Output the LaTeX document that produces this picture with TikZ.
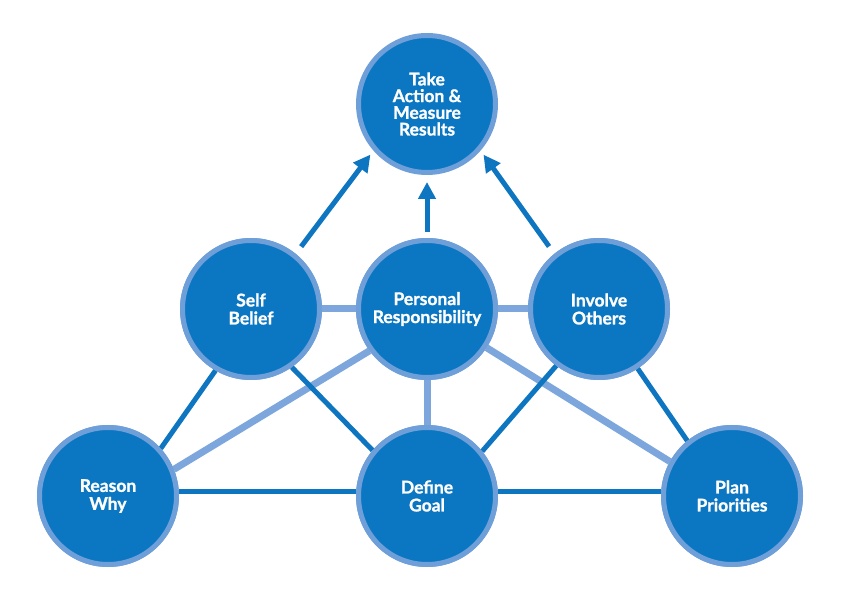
\documentclass[tikz,border=0pt]{standalone}
\usepackage{fontspec}
\setmainfont{Lato}[BoldFeatures={FakeBold=1.2}]
\usetikzlibrary{arrows.meta}
\definecolor{fillblue}{HTML}{0B77C2}
\definecolor{rimblue}{HTML}{6E9FD9}
\definecolor{darkline}{HTML}{0E76C0}
\definecolor{lightline}{HTML}{7DA7DC}
\begin{document}
\begin{tikzpicture}[x=1pt,y=-1pt,
  hub/.style={circle,draw=rimblue,fill=fillblue,line width=5pt,minimum size=137pt,inner sep=0pt,
    text=white,font=\fontsize{17.5}{18}\selectfont\bfseries,align=center},
  tophub/.style={hub,font=\fontsize{17.5}{16.7}\selectfont\bfseries},
  darkconn/.style={draw=darkline,line width=5pt},
  lightconn/.style={draw=lightline,line width=7pt},
  upconn/.style={draw=darkline,line width=5pt,-{Triangle[length=17pt,width=17pt]}}]
\useasboundingbox (0,0) rectangle (841,601);
\node[tophub] (top) at (427,104) {Take\\Action \&\\Measure\\Results};
\node[hub] (sb) at (251,309) {Self\\Belief};
\node[hub] (pr) at (427,309) {Personal\\Responsibility};
\node[hub] (io) at (599,309) {Involve\\Others};
\node[hub] (rw) at (108,496) {Reason\\Why};
\node[hub] (dg) at (427,496) {Define\\Goal};
\node[hub] (pp) at (732,496) {Plan\\Priorities};
% connectors drawn first, then circles redrawn on top
\path[lightconn] (sb) -- (pr);
\path[lightconn] (pr) -- (io);
\path[lightconn] (pr.216) -- (rw.22);
\path[lightconn] (pr.-33) -- (pp.151);
\path[lightconn] (pr.-90) -- (dg.90);
\path[darkconn] (sb.240) -- (rw.42);
\path[darkconn] (sb.-55) -- (dg.140);
\path[darkconn] (rw.4) -- (dg.176);
\path[darkconn] (dg.4) -- (pp.176);
\path[darkconn] (dg.39) -- (io.233);
\path[darkconn] (io.-57) -- (pp.129);
\path[upconn,shorten <=9pt,shorten >=5pt] (sb.51) -- (top.221);
\path[upconn,shorten <=6pt,shorten >=7pt] (pr.90) -- (top.270);
\path[upconn,shorten <=9pt,shorten >=5pt] (io.129) -- (top.319);
\node[hub] at (sb) {Self\\Belief};
\node[hub] at (pr) {Personal\\Responsibility};
\node[hub] at (io) {Involve\\Others};
\node[hub] at (rw) {Reason\\Why};
\node[hub] at (dg) {Define\\Goal};
\node[hub] at (pp) {Plan\\Priorities};
\end{tikzpicture}
\end{document}
